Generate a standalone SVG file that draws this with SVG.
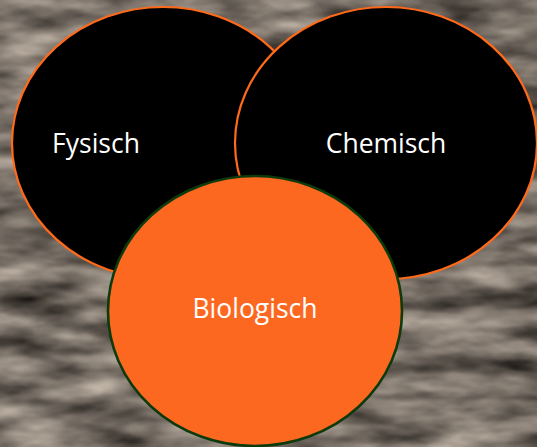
<svg xmlns="http://www.w3.org/2000/svg" width="537" height="447" viewBox="0 0 537 447">
  <defs>
    <filter id="stone" x="0" y="0" width="537" height="447" filterUnits="userSpaceOnUse" color-interpolation-filters="sRGB">
      <feTurbulence type="fractalNoise" baseFrequency="0.012 0.045" numOctaves="4" seed="7" result="n"/>
      <feGaussianBlur in="n" stdDeviation="1.2 0.8" result="b"/>
      <feColorMatrix in="b" type="matrix" values="0.9 0 0 0 0.02  0.85 0 0 0 0.01  0.8 0 0 0 0.0  0 0 0 0 1"/>
    </filter>
  </defs>
  <style>
    .dark { fill: #000000; stroke: #ff6a1a; stroke-width: 2.2; }
    .bio { fill: #fd6820; stroke: #0d3a0a; stroke-width: 2.6; }
    .lbl { font-family: "Open Sans", "Noto Sans", "Liberation Sans", sans-serif; font-size: 26.5px; fill: #ffffff; text-anchor: middle; }
  </style>
  <rect x="0" y="0" width="537" height="447" fill="#7a7068"/>
  <rect x="0" y="0" width="537" height="447" filter="url(#stone)"/>
  <g id="fysisch">
    <ellipse class="dark" cx="163" cy="143" rx="151" ry="136"/>
    <text class="lbl" x="96" y="153">Fysisch</text>
  </g>
  <g id="chemisch">
    <ellipse class="dark" cx="386" cy="143" rx="151" ry="136"/>
    <text class="lbl" x="386" y="153">Chemisch</text>
  </g>
  <g id="biologisch">
    <ellipse class="bio" cx="255" cy="311" rx="147" ry="135"/>
    <text class="lbl" x="255" y="318">Biologisch</text>
  </g>
  <g id="connectors"/>
</svg>
